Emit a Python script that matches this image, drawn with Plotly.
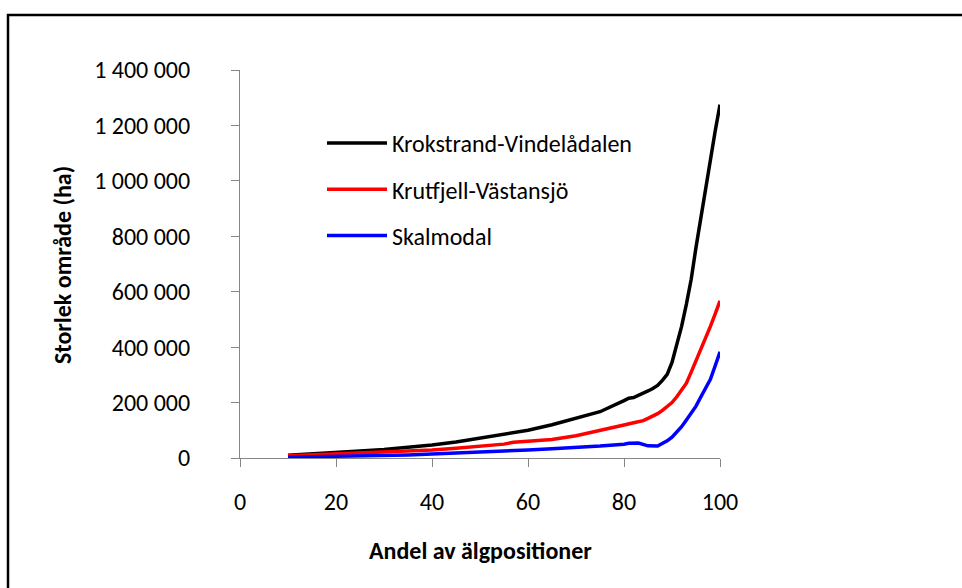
import plotly.graph_objects as go

# ---- data ----
x_krok = [10, 15, 20, 25, 30, 35, 40, 45, 50, 55, 60, 65, 70, 75, 80, 81, 82, 83, 84, 85,
          86, 87, 88, 89, 90, 91, 92, 93, 94, 95, 96, 97, 98, 99, 100]
y_krok = [10000, 14000, 19000, 25000, 31000, 38000, 47000, 58000, 71000, 85000, 100000,
          120000, 142000, 167000, 207000, 216000, 218000, 225000, 233000, 242000, 251000,
          262000, 280000, 302000, 345000, 410000, 475000, 555000, 645000, 760000, 870000,
          975000, 1080000, 1180000, 1275000]

x_krut = [10, 15, 20, 25, 30, 35, 40, 45, 50, 55, 57, 60, 65, 70, 75, 80, 82, 84, 85, 86,
          87, 88, 89, 90, 91, 92, 93, 94, 95, 96, 97, 98, 99, 100]
y_krut = [8000, 11000, 14000, 17000, 20000, 24000, 29000, 35000, 42000, 50000, 57000,
          61000, 67000, 80000, 101000, 119000, 127000, 135000, 143000, 150000, 160000,
          172000, 185000, 200000, 221000, 245000, 270000, 310000, 350000, 395000, 435000,
          475000, 520000, 567000]

x_skal = [10, 15, 20, 25, 30, 35, 40, 45, 50, 55, 60, 65, 70, 75, 80, 81, 83, 84, 85, 87,
          88, 89, 90, 91, 92, 93, 94, 95, 96, 97, 98, 99, 100]
y_skal = [3000, 4000, 6000, 7000, 9000, 11000, 14000, 17000, 20000, 24000, 29000, 33000,
          37000, 43000, 50000, 53000, 54000, 50000, 44000, 43000, 52000, 62000, 75000,
          92000, 113000, 137000, 162000, 187000, 220000, 250000, 284000, 333000, 383000]

series_names = ["Krokstrand-Vindelådalen", "Krutfjell-Västansjö", "Skalmodal"]
series_colors = ["#000000", "#FF0000", "#0000FF"]

x_tickvals = [0, 20, 40, 60, 80, 100]
y_tickvals = [0, 200000, 400000, 600000, 800000, 1000000, 1200000, 1400000]
y_ticktext = ["0", "200 000", "400 000", "600 000", "800 000", "1 000 000", "1 200 000", "1 400 000"]

FONT = "Carlito, Calibri, Lato, sans-serif"
FS = 24

fig = go.Figure()
for i, (xs, ys) in enumerate([(x_krok, y_krok), (x_krut, y_krut), (x_skal, y_skal)]):
    fig.add_trace(go.Scatter(
        x=xs, y=ys, mode="lines", name=series_names[i],
        line=dict(color=series_colors[i], width=3.5),
        legendgroup=str(i),
    ))

W, H = 962, 588
L, R, T, B = 240, 242, 70, 130
pw, ph = W - L - R, H - T - B

def px(xp):
    return (xp - L) / pw

def py(yp):
    return (H - B - yp) / ph

fig.update_layout(
    width=W, height=H,
    margin=dict(l=L, r=R, t=T, b=B, autoexpand=False),
    paper_bgcolor="white", plot_bgcolor="white",
    font=dict(family=FONT, size=FS, color="#000000"),
    showlegend=True,
    legend=dict(
        x=px(322), y=py(121), xanchor="left", yanchor="top",
        bgcolor="rgba(0,0,0,0)", traceorder="grouped", tracegroupgap=12,
        itemwidth=60,
        font=dict(family=FONT, size=FS, color="#000000"),
    ),
    xaxis=dict(
        range=[0, 100], tickvals=x_tickvals, showgrid=False, zeroline=False,
        showline=True, linecolor="#868686", linewidth=1,
        ticks="outside", ticklen=8, tickcolor="#868686",
        ticklabelstandoff=14, tickfont=dict(size=FS),
    ),
    yaxis=dict(
        range=[0, 1400000], tickvals=y_tickvals, ticktext=y_ticktext,
        showgrid=False, zeroline=False,
        showline=True, linecolor="#868686", linewidth=1,
        ticks="outside", ticklen=8, tickcolor="#868686",
        ticklabelstandoff=36, tickfont=dict(size=FS),
    ),
    annotations=[
        dict(text="<b>Andel av älgpositioner</b>", xref="paper", yref="paper",
             x=0.5, y=py(550), xanchor="center", yanchor="middle", showarrow=False,
             font=dict(family=FONT, size=FS)),
        dict(text="<b>Storlek område (ha)</b>", xref="paper", yref="paper",
             x=px(62), y=py(265), xanchor="center", yanchor="middle", showarrow=False,
             textangle=-90, font=dict(family=FONT, size=FS)),
    ],
    shapes=[
        dict(type="rect", xref="paper", yref="paper",
             x0=px(8), x1=px(975), y0=py(600), y1=py(15),
             line=dict(color="black", width=2.5), fillcolor="rgba(0,0,0,0)", layer="below"),
    ],
)

fig.write_html("out.html", config={"displayModeBar": False},
               post_script="document.body.style.margin='0';document.body.style.padding='0';")
